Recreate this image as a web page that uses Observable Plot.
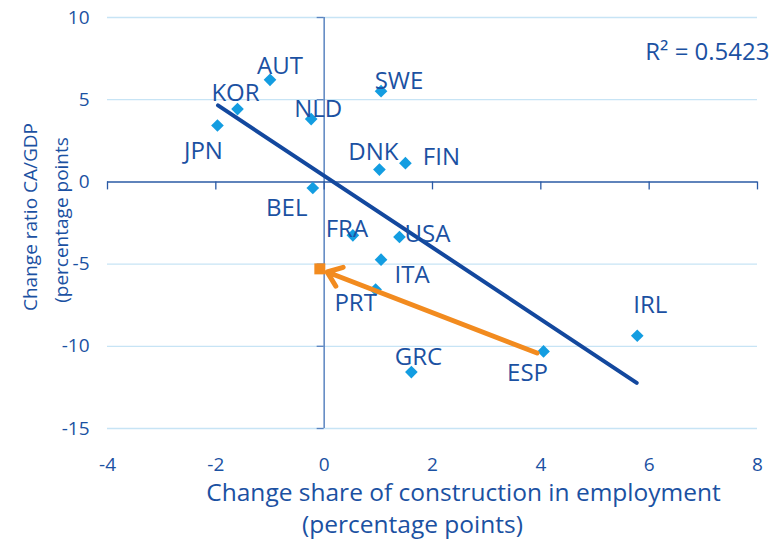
<!DOCTYPE html>
<html>
<head>
<meta charset="utf-8">
<script src="https://cdn.jsdelivr.net/npm/d3@7"></script>
<script src="https://cdn.jsdelivr.net/npm/@observablehq/plot@0.6"></script>
<style>
  html, body { margin: 0; padding: 0; background: #fff; }
  svg { display: block; font-family: "Open Sans", sans-serif; }
</style>
</head>
<body>
<div id="chart"></div>
<script>
// ---- data ----
const countries = ["JPN","KOR","AUT","NLD","BEL","SWE","DNK","FIN","FRA","USA","ITA","PRT","GRC","ESP","IRL"];
const constructionChange = [-1.97,-1.60,-1.00,-0.24,-0.21,1.05,1.02,1.50,0.53,1.39,1.05,0.95,1.61,4.05,5.78];
const caGdpChange       = [3.43,4.43,6.21,3.82,-0.37,5.52,0.75,1.14,-3.25,-3.35,-4.73,-6.55,-11.57,-10.31,-9.36];

// adjusted Spain position (orange square)
const targetX = [-0.08];
const targetY = [-5.29];

// arrow from Spain towards the target
const arrowFrom = [3.93, -10.41];
const arrowTo = [0.055, -5.48];

// fitted trend line endpoints
const trendX = [-1.96, 5.77];
const trendY = [4.65, -12.22];
const rSquaredText = "R² = 0.5423";

const xTicks = [-4, -2, 0, 2, 4, 6, 8];
const yTicks = [10, 5, 0, -5, -10, -15];
const yGrid = [10, 5, -5, -10, -15];

const xTitle1 = "Change share of construction in employment";
const xTitle2 = "(percentage points)";
const yTitle1 = "Change ratio CA/GDP";
const yTitle2 = "(percentage points";

// ---- label offsets (px) ----
const labelOffset = {
  JPN: [-14, 26], KOR: [-2, -16], AUT: [10, -13], NLD: [7, -10], BEL: [-26, 20],
  SWE: [18, -10], DNK: [-6, -17], FIN: [36, -6], FRA: [-6, -6], USA: [28, -3],
  ITA: [31, 16], PRT: [-20, 14], GRC: [7, -15], ESP: [-16, 22], IRL: [13, -30]
};

const pts = countries.map((c, i) => ({c, x: constructionChange[i], y: caGdpChange[i]}));
const trend = trendX.map((x, i) => ({x, y: trendY[i]}));

const textColor = "#1b51a2";
const markerColor = "#139de1";
const orange = "#f28b1f";

const labelMarks = pts.map(p => Plot.text([p], {
  x: "x", y: "y", text: "c",
  dx: labelOffset[p.c][0], dy: labelOffset[p.c][1],
  fill: textColor, fontSize: 24, textAnchor: "middle"
}));

const fmt = d => d < 0 ? "-" + Math.abs(d) : String(d);

const chart = Plot.plot({
  width: 780,
  height: 547,
  marginLeft: 107,
  marginRight: 23,
  marginTop: 17,
  marginBottom: 119,
  x: {domain: [-4, 8], axis: null},
  y: {domain: [-15, 10], axis: null},
  style: {fontFamily: "'Open Sans', sans-serif", background: "#fff"},
  marks: [
    // grid
    Plot.ruleY(yGrid, {y: d => d, stroke: "#c7e4f5", strokeWidth: 1.3}),
    // y axis line at x=0
    Plot.ruleX([0], {x: d => d, y1: -15, y2: 10, stroke: "#5a84c0", strokeWidth: 1.5}),
    // y ticks (pointing left)
    Plot.ruleY(yGrid, {y: d => d, x1: 0, x2: 0, insetLeft: -7, stroke: "#5a84c0", strokeWidth: 1.3}),
    // x axis line at y=0
    Plot.ruleY([0], {y: d => d, x1: -4, x2: 8, stroke: "#2a5aa5", strokeWidth: 1.5}),
    // x ticks (pointing down)
    Plot.ruleX(xTicks, {x: d => d, y1: 0, y2: 0, insetBottom: -8, stroke: "#2a5aa5", strokeWidth: 1.3}),
    // tick labels
    Plot.text(xTicks, {x: d => d, frameAnchor: "bottom", dy: 42, textAnchor: "middle", text: fmt, fill: textColor, fontSize: 19}),
    Plot.text(yTicks, {y: d => d, frameAnchor: "left", dx: -18, textAnchor: "end", text: fmt, fill: textColor, fontSize: 19}),
    // axis titles
    Plot.text([xTitle1], {text: d => d, frameAnchor: "bottom", textAnchor: "middle", dx: 31, dy: 72, fill: textColor, fontSize: 24.5}),
    Plot.text([xTitle2], {text: d => d, frameAnchor: "bottom", textAnchor: "middle", dx: -20, dy: 104, fill: textColor, fontSize: 24.5}),
    Plot.text([yTitle1], {text: d => d, frameAnchor: "left", textAnchor: "middle", rotate: -90, dx: -77, dy: -6, fill: textColor, fontSize: 19}),
    Plot.text([yTitle2], {text: d => d, frameAnchor: "left", textAnchor: "middle", rotate: -90, dx: -46, dy: -3, fill: textColor, fontSize: 19}),
    // trend line
    Plot.line(trend, {x: "x", y: "y", stroke: "#13489e", strokeWidth: 4}),
    // points
    Plot.dot(pts, {x: "x", y: "y", symbol: "diamond2", r: 5.7, fill: markerColor, stroke: "none"}),
    // orange arrow and square
    Plot.arrow([0], {x1: arrowFrom[0], y1: arrowFrom[1], x2: arrowTo[0], y2: arrowTo[1], stroke: orange, strokeWidth: 5, headLength: 5, headAngle: 75}),
    Plot.dot(targetX.map((x, i) => ({x, y: targetY[i]})), {x: "x", y: "y", symbol: "square", r: 6.2, fill: orange, stroke: "none"}),
    // labels
    ...labelMarks,
    // R squared
    Plot.text([rSquaredText], {text: d => d, frameAnchor: "top-right", dx: 12, dy: 25, textAnchor: "end", fill: textColor, fontSize: 24})
  ]
});
document.getElementById("chart").appendChild(chart);
</script>
</body>
</html>
